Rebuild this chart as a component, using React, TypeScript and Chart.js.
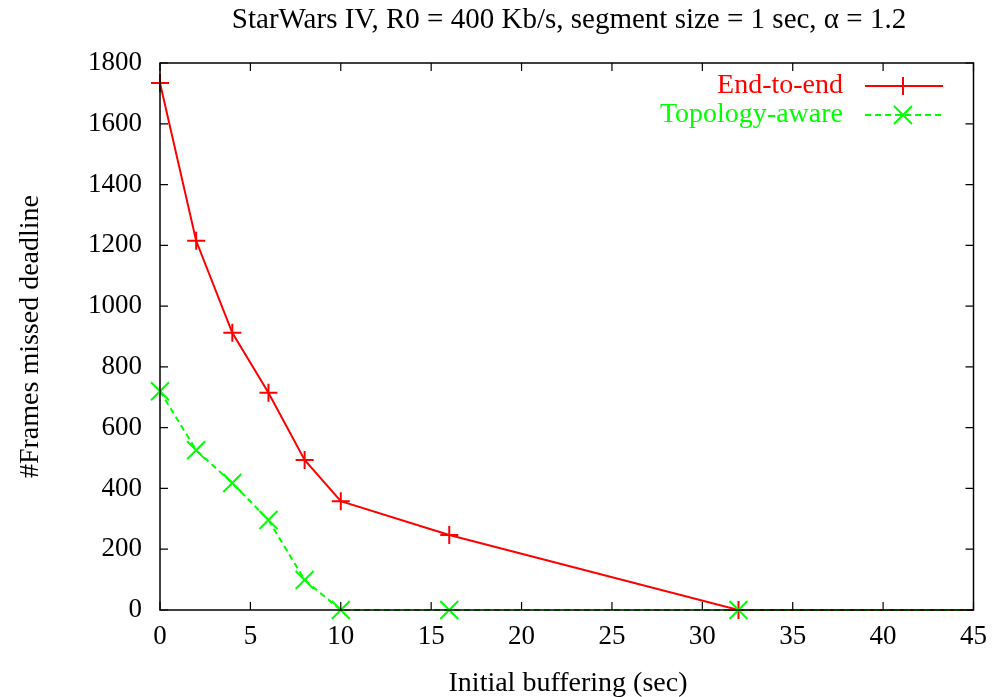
import React, { useEffect, useRef } from "react";
import { Chart, registerables } from "chart.js";

Chart.register(...registerables);

const xEndToEnd = [0, 2, 4, 6, 8, 10, 16, 32, 64];
const yEndToEnd = [1734, 1215, 912, 715, 494, 358, 247, 0, 0];
const xTopology = [0, 2, 4, 6, 8, 10, 16, 32, 64];
const yTopology = [720, 526, 418, 296, 99, 0, 0, 0, 0];
const markerVisible = [1, 1, 1, 1, 1, 1, 1, 1, 0];

const xTicks = [0, 5, 10, 15, 20, 25, 30, 35, 40, 45];
const yTicks = [0, 200, 400, 600, 800, 1000, 1200, 1400, 1600, 1800];

const TITLE = "StarWars IV, R0 = 400 Kb/s, segment size = 1 sec, \u03b1 = 1.2";
const XLABEL = "Initial buffering (sec)";
const YLABEL = "#Frames missed deadline";
const LEGEND1 = "End-to-end";
const LEGEND2 = "Topology-aware";

const FONT = "'Liberation Serif', 'DejaVu Serif', serif";
const RED = "#ff0000";
const GREEN = "#00ff00";

const decorPlugin = {
  id: "decor",
  afterDraw(chart: any) {
    const ctx = chart.ctx;
    const a = chart.chartArea;
    const xs = chart.scales.x;
    const ys = chart.scales.y;
    ctx.save();
    // frame
    ctx.strokeStyle = "#000";
    ctx.lineWidth = 1.5;
    ctx.strokeRect(a.left, a.top, a.right - a.left, a.bottom - a.top);
    // inside ticks
    const tl = 8;
    ctx.lineWidth = 1.2;
    ctx.beginPath();
    for (const v of xTicks) {
      const px = xs.getPixelForValue(v);
      ctx.moveTo(px, a.bottom);
      ctx.lineTo(px, a.bottom - tl);
      ctx.moveTo(px, a.top);
      ctx.lineTo(px, a.top + tl);
    }
    for (const v of yTicks) {
      const py = ys.getPixelForValue(v);
      ctx.moveTo(a.left, py);
      ctx.lineTo(a.left + tl, py);
      ctx.moveTo(a.right, py);
      ctx.lineTo(a.right - tl, py);
    }
    ctx.stroke();

    // title
    ctx.fillStyle = "#000";
    ctx.font = `29px ${FONT}`;
    ctx.textAlign = "center";
    ctx.textBaseline = "middle";
    ctx.fillText(TITLE, 569, 20);
    // x label
    ctx.font = `28px ${FONT}`;
    ctx.fillText(XLABEL, 568, 684);
    // y label
    ctx.save();
    ctx.translate(31, (a.top + a.bottom) / 2);
    ctx.rotate(-Math.PI / 2);
    ctx.fillText(YLABEL, 0, 0);
    ctx.restore();

    // legend
    const textRight = 843;
    const l1 = 865;
    const l2 = 943;
    const mid = 903;
    const rows = [
      { t: LEGEND1, c: RED, y: 86, dash: [] as number[], m: "plus" },
      { t: LEGEND2, c: GREEN, y: 115, dash: [6, 4], m: "x" },
    ];
    for (const r of rows) {
      ctx.fillStyle = r.c;
      ctx.textAlign = "right";
      ctx.font = `28px ${FONT}`;
      ctx.fillText(r.t, textRight, r.y);
      ctx.strokeStyle = r.c;
      ctx.lineWidth = 2;
      ctx.setLineDash(r.dash);
      ctx.beginPath();
      ctx.moveTo(l1, r.y);
      ctx.lineTo(l2, r.y);
      ctx.stroke();
      ctx.setLineDash([]);
      ctx.beginPath();
      const s = 9;
      if (r.m === "plus") {
        ctx.moveTo(mid - s, r.y);
        ctx.lineTo(mid + s, r.y);
        ctx.moveTo(mid, r.y - s);
        ctx.lineTo(mid, r.y + s);
      } else {
        const d = 9;
        ctx.moveTo(mid - d, r.y - d);
        ctx.lineTo(mid + d, r.y + d);
        ctx.moveTo(mid - d, r.y + d);
        ctx.lineTo(mid + d, r.y - d);
      }
      ctx.stroke();
    }
    ctx.restore();
  },
};

export default function App() {
  const ref = useRef<HTMLCanvasElement>(null);
  useEffect(() => {
    if (!ref.current) return;
    const redR = markerVisible.map((m) => (m ? 9 : 0));
    const greenR = markerVisible.map((m) => (m ? 12.7 : 0));
    const clip = { left: 15, top: 15, right: 0, bottom: 15 };
    const chart = new Chart(ref.current, {
      type: "line",
      data: {
        datasets: [
          {
            label: LEGEND1,
            data: xEndToEnd.map((x, i) => ({ x, y: yEndToEnd[i] })),
            borderColor: RED,
            backgroundColor: RED,
            borderWidth: 2,
            pointStyle: "cross",
            pointRadius: redR,
            pointBorderWidth: 2,
            pointBorderColor: RED,
            tension: 0,
            order: 1,
            clip,
          },
          {
            label: LEGEND2,
            data: xTopology.map((x, i) => ({ x, y: yTopology[i] })),
            borderColor: GREEN,
            backgroundColor: GREEN,
            borderWidth: 2,
            borderDash: [6, 4],
            pointStyle: "crossRot",
            pointRadius: greenR,
            pointBorderWidth: 2,
            pointBorderColor: GREEN,
            tension: 0,
            order: 0,
            clip,
          },
        ],
      },
      options: {
        animation: false,
        responsive: false,
        maintainAspectRatio: false,
        layout: { padding: { top: 63, right: 22, left: 0, bottom: 0 } },
        plugins: {
          legend: { display: false },
          tooltip: { enabled: false },
          title: { display: false },
        },
        scales: {
          x: {
            type: "linear",
            min: 0,
            max: 45,
            afterFit: (s: any) => {
              s.height = 87;
            },
            afterBuildTicks: (s: any) => {
              s.ticks = xTicks.map((v) => ({ value: v }));
            },
            grid: { display: false, drawTicks: false },
            border: { display: false },
            ticks: {
              color: "#000",
              font: { family: FONT, size: 27 },
              padding: 11,
              maxRotation: 0,
              callback: (v: any) => String(v),
            },
          },
          y: {
            type: "linear",
            min: 0,
            max: 1800,
            afterFit: (s: any) => {
              s.width = 160;
            },
            afterBuildTicks: (s: any) => {
              s.ticks = yTicks.map((v) => ({ value: v }));
            },
            grid: { display: false, drawTicks: false },
            border: { display: false },
            ticks: {
              color: "#000",
              font: { family: FONT, size: 27 },
              padding: 18,
              callback: (v: any) => String(v),
            },
          },
        },
      },
      plugins: [decorPlugin],
    } as any);
    return () => chart.destroy();
  }, []);
  return (
    <div style={{ position: "fixed", left: 0, top: 0, width: 998, height: 697, background: "#fff" }}>
      <canvas ref={ref} width={998} height={697} style={{ display: "block" }} />
    </div>
  );
}
